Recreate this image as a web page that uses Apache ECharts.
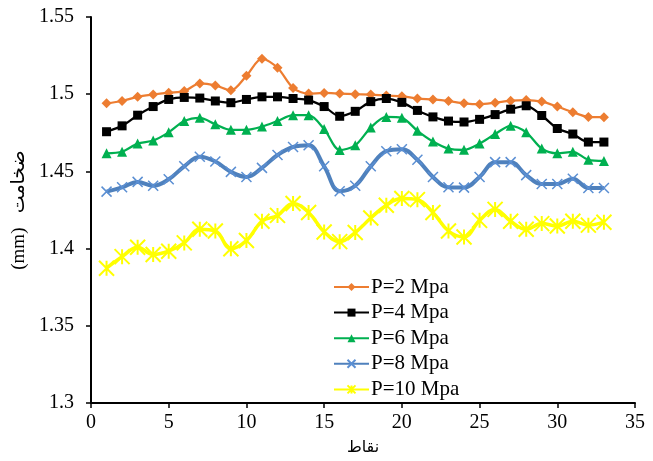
<!DOCTYPE html>
<html>
<head>
<meta charset="utf-8">
<script src="https://cdn.jsdelivr.net/npm/echarts@6/dist/echarts.min.js"></script>
<style>html,body{margin:0;padding:0;background:#fff}#c{width:653px;height:461px}</style>
</head>
<body>
<div id="c"></div>
<script>
const points = [1,2,3,4,5,6,7,8,9,10,11,12,13,14,15,16,17,18,19,20,21,22,23,24,25,26,27,28,29,30,31,32,33];
const p2 = [1.4941,1.4956,1.4983,1.4998,1.5010,1.5020,1.5070,1.5057,1.5025,1.5120,1.5230,1.5171,1.5040,1.5004,1.5008,1.5004,1.5000,1.4998,1.4991,1.4987,1.4972,1.4966,1.4956,1.4941,1.4935,1.4945,1.4958,1.4962,1.4952,1.4920,1.4883,1.4853,1.4851];
const p4 = [1.4757,1.4795,1.4864,1.4920,1.4966,1.4979,1.4975,1.4956,1.4945,1.4966,1.4983,1.4983,1.4972,1.4962,1.4920,1.4857,1.4889,1.4952,1.4972,1.4947,1.4895,1.4853,1.4826,1.4820,1.4837,1.4868,1.4903,1.4925,1.4862,1.4778,1.4742,1.4690,1.4690];
const p6 = [1.4617,1.4627,1.4680,1.4700,1.4753,1.4826,1.4847,1.4805,1.4769,1.4769,1.4790,1.4826,1.4864,1.4864,1.4774,1.4638,1.4669,1.4784,1.4853,1.4847,1.4763,1.4694,1.4648,1.4640,1.4680,1.4742,1.4795,1.4753,1.4648,1.4617,1.4627,1.4575,1.4568];
const p8 = [1.4369,1.4397,1.4432,1.4407,1.4449,1.4533,1.4595,1.4564,1.4497,1.4464,1.4523,1.4606,1.4658,1.4669,1.4533,1.4372,1.4407,1.4533,1.4631,1.4644,1.4575,1.4464,1.4397,1.4395,1.4464,1.4560,1.4560,1.4476,1.4418,1.4418,1.4453,1.4393,1.4393];
const p10 = [1.3873,1.3948,1.4009,1.3962,1.3983,1.4037,1.4125,1.4114,1.3999,1.4052,1.4177,1.4215,1.4292,1.4234,1.4108,1.4045,1.4104,1.4198,1.4281,1.4324,1.4317,1.4234,1.4114,1.4075,1.4183,1.4254,1.4177,1.4125,1.4162,1.4146,1.4177,1.4152,1.4171];
const seriesNames = ['P=2 Mpa','P=4 Mpa','P=6 Mpa','P=8 Mpa','P=10 Mpa'];

const serif = '"Liberation Serif", "Times New Roman", "DejaVu Serif", serif';
const arab = '"Liberation Serif", "DejaVu Sans", "Noto Sans", sans-serif';
const pair = arr => points.map((x, i) => [x, arr[i]]);

const xPath = 'path://M0,0L10,10M10,0L0,10';
const starPath = 'path://M5,0L5,10M0,0L10,10M10,0L0,10';

const chart = echarts.init(document.getElementById('c'), null, {renderer: 'canvas'});
chart.setOption({
  animation: false,
  backgroundColor: '#fff',
  grid: {left: 91, right: 18, top: 17, bottom: 44, containLabel: false},
  xAxis: {
    type: 'value', min: 0, max: 35, interval: 5,
    name: 'نقاط', nameLocation: 'middle', nameGap: 37,
    nameTextStyle: {fontFamily: arab, fontSize: 16, color: '#000'},
    axisLine: {show: true, onZero: false, lineStyle: {color: '#000', width: 2}},
    axisTick: {show: true, length: 5, lineStyle: {color: '#000', width: 1.5}},
    axisLabel: {color: '#000', fontFamily: serif, fontSize: 20, margin: 10},
    splitLine: {show: false}
  },
  yAxis: {
    type: 'value', min: 1.3, max: 1.55, interval: 0.05,
    name: '(mm)   ضخامت', nameLocation: 'middle', nameGap: 52,
    nameTextStyle: {fontFamily: arab, fontSize: 19, color: '#000'},
    axisLine: {show: true, onZero: false, lineStyle: {color: '#000', width: 2}},
    axisTick: {show: true, length: 5, lineStyle: {color: '#000', width: 1.5}},
    axisLabel: {color: '#000', fontFamily: serif, fontSize: 20, margin: 17},
    splitLine: {show: false}
  },
  legend: {
    orient: 'vertical', left: 333, top: 276.5, padding: 0,
    itemWidth: 35, itemHeight: 10, itemGap: 4.6,
    textStyle: {fontFamily: serif, fontSize: 21, color: '#000', padding: [0,0,0,-3]},
    data: seriesNames
  },
  series: [
    {name: seriesNames[0], type: 'line', data: pair(p2), smooth: 0.3,
     symbol: 'diamond', symbolSize: 10,
     lineStyle: {color: '#ED7D31', width: 2.25}, itemStyle: {color: '#ED7D31'}},
    {name: seriesNames[1], type: 'line', data: pair(p4), smooth: 0.3,
     symbol: 'rect', symbolSize: 9,
     lineStyle: {color: '#000000', width: 2.25}, itemStyle: {color: '#000000'}},
    {name: seriesNames[2], type: 'line', data: pair(p6), smooth: 0.3,
     symbol: 'triangle', symbolSize: 10,
     lineStyle: {color: '#00B050', width: 2.25}, itemStyle: {color: '#00B050'}},
    {name: seriesNames[3], type: 'line', data: pair(p8), smooth: 0.4,
     symbol: xPath, symbolSize: 10,
     lineStyle: {color: '#4F81BD', width: 4}, itemStyle: {color: '#4F81BD', borderColor: '#5B8FD3', borderWidth: 1.5}},
    {name: seriesNames[4], type: 'line', data: pair(p10), smooth: 0.4,
     symbol: starPath, symbolSize: 15,
     lineStyle: {color: '#FFFF00', width: 3.5}, itemStyle: {color: '#FFFF00', borderColor: '#FFFF00', borderWidth: 2}}
  ]
});
</script>
</body>
</html>
